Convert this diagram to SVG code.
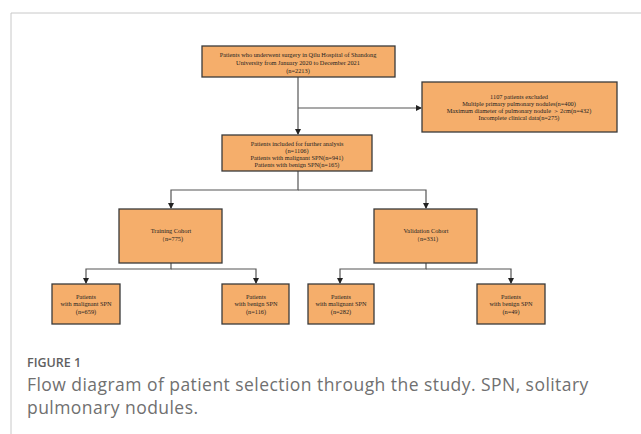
<svg xmlns="http://www.w3.org/2000/svg" width="641" height="434" viewBox="0 0 641 434">
<defs>
<marker id="ah" markerWidth="6" markerHeight="6" refX="5" refY="3" orient="auto" markerUnits="userSpaceOnUse">
<path d="M0,0 L6,3 L0,6 z" fill="#222"/>
</marker>
<style>
.box{fill:#F5AE6B;stroke:#3a3a3a;stroke-width:1.3}
.t{font-family:"Liberation Serif",serif;font-size:6.3px;fill:#222;text-anchor:middle}
.ln{fill:none;stroke:#555;stroke-width:1.2}
.cap1{font-family:"Open Sans","Liberation Sans",sans-serif;font-size:12.5px;font-weight:600;fill:#606060}
.cap2{font-family:"Open Sans","Liberation Sans",sans-serif;font-size:17.5px;letter-spacing:0.45px;fill:#707070}
</style>
</defs>
<rect width="641" height="434" fill="#fff"/>
<path d="M11,434 V13 H641" fill="none" stroke="#c8c8c8" stroke-width="1"/>
<g id="connectors">
<path class="ln" d="M298,77 V134" marker-end="url(#ah)"/>
<path class="ln" d="M298,108 H421" marker-end="url(#ah)"/>
<path class="ln" d="M298,171 V190 H171 V208" marker-end="url(#ah)"/>
<path class="ln" d="M298,190 H426 V208" marker-end="url(#ah)"/>
<path class="ln" d="M171,263 V269 H86 V283" marker-end="url(#ah)"/>
<path class="ln" d="M171,269 H256 V283" marker-end="url(#ah)"/>
<path class="ln" d="M426,263 V269 H340 V283" marker-end="url(#ah)"/>
<path class="ln" d="M426,269 H511 V283" marker-end="url(#ah)"/>
</g>
<g id="n1">
<rect class="box" x="202" y="46" width="193" height="31"/>
<text class="t" x="298" y="57">Patients who underwent surgery in Qilu Hospital of Shandong</text>
<text class="t" x="298" y="65">University from January 2020 to December 2021</text>
<text class="t" x="298" y="73">(n=2213)</text>
</g>
<g id="n2">
<rect class="box" x="422" y="82" width="195" height="50"/>
<text class="t" x="519" y="99">1107 patients excluded</text>
<text class="t" x="519" y="106">Multiple primary pulmonary nodules(n=400)</text>
<text class="t" x="519" y="113">Maximum diameter of pulmonary nodule ＞ 2cm(n=432)</text>
<text class="t" x="519" y="120">Incomplete clinical data(n=275)</text>
</g>
<g id="n3">
<rect class="box" x="222" y="135" width="150" height="36"/>
<text class="t" x="297" y="146">Patients included for further analysis</text>
<text class="t" x="297" y="153">(n=1106)</text>
<text class="t" x="297" y="160">Patients with malignant SPN(n=941)</text>
<text class="t" x="297" y="167">Patients with benign SPN(n=165)</text>
</g>
<g id="n4">
<rect class="box" x="119" y="209" width="103" height="54"/>
<text class="t" x="171" y="233">Training Cohort</text>
<text class="t" x="171" y="241">（n=775)</text>
</g>
<g id="n5">
<rect class="box" x="374" y="209" width="103" height="54"/>
<text class="t" x="426" y="233">Validation Cohort</text>
<text class="t" x="426" y="241">（n=331)</text>
</g>
<g id="n6">
<rect class="box" x="52" y="284" width="68" height="40"/>
<text class="t" x="86" y="299">Patients</text>
<text class="t" x="86" y="306">with malignant SPN</text>
<text class="t" x="86" y="314">(n=659)</text>
</g>
<g id="n7">
<rect class="box" x="222" y="284" width="67" height="40"/>
<text class="t" x="256" y="299">Patients</text>
<text class="t" x="256" y="306">with benign SPN</text>
<text class="t" x="256" y="314">(n=116)</text>
</g>
<g id="n8">
<rect class="box" x="308" y="284" width="66" height="40"/>
<text class="t" x="341" y="299">Patients</text>
<text class="t" x="341" y="306">with malignant SPN</text>
<text class="t" x="341" y="314">(n=282)</text>
</g>
<g id="n9">
<rect class="box" x="477" y="284" width="68" height="40"/>
<text class="t" x="511" y="299">Patients</text>
<text class="t" x="511" y="306">with benign SPN</text>
<text class="t" x="511" y="314">(n=49)</text>
</g>
<text class="cap1" x="27" y="367">FIGURE 1</text>
<text class="cap2" x="27" y="391">Flow diagram of patient selection through the study. SPN, solitary</text>
<text class="cap2" x="27" y="414">pulmonary nodules.</text>
</svg>
